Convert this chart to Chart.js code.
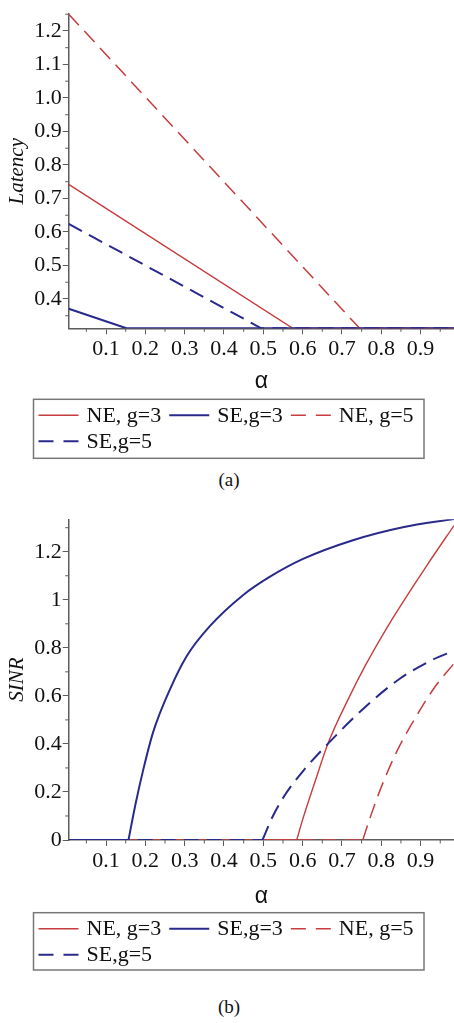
<!DOCTYPE html>
<html>
<head>
<meta charset="UTF-8">
<title>Latency and SINR vs alpha</title>
<script src="https://cdn.jsdelivr.net/npm/chart.js"></script>
<style>
    body { margin: 0; background: #fff; width: 454px; height: 1023px; overflow: hidden; position: relative; }
    .box { position: absolute; left: 0; width: 454px; }
    #boxA { top: 0; height: 465px; }
    #boxB { top: 500px; height: 478px; }
    .cap { position: absolute; left: 0; width: 458px; text-align: center; font: 19px "Liberation Serif", serif; color: #111; }
</style>
</head>
<body>
<div class="box" id="boxA"><canvas id="latencyChart"></canvas></div>
<div class="cap" style="top:469px">(a)</div>
<div class="box" id="boxB"><canvas id="sinrChart"></canvas></div>
<div class="cap" style="top:996px">(b)</div>

<script>
    // tick values and labels
    const alphaTicks = [0.1, 0.2, 0.3, 0.4, 0.5, 0.6, 0.7, 0.8, 0.9];
    const alphaTickLabels = ['0.1', '0.2', '0.3', '0.4', '0.5', '0.6', '0.7', '0.8', '0.9'];
    const alphaMinor = [0.05, 0.15, 0.25, 0.35, 0.45, 0.55, 0.65, 0.75, 0.85, 0.95];
    const latencyTicks = [0.4, 0.5, 0.6, 0.7, 0.8, 0.9, 1.0, 1.1, 1.2];
    const latencyTickLabels = ['0.4', '0.5', '0.6', '0.7', '0.8', '0.9', '1.0', '1.1', '1.2'];
    const latencyMinor = [0.35, 0.45, 0.55, 0.65, 0.75, 0.85, 0.95, 1.05, 1.15, 1.25];
    const sinrTicks = [0, 0.2, 0.4, 0.6, 0.8, 1.0, 1.2];
    const sinrTickLabels = ['0', '0.2', '0.4', '0.6', '0.8', '1', '1.2'];
    const sinrMinor = [0.1, 0.3, 0.5, 0.7, 0.9, 1.1, 1.3];

    const seriesNames = ['NE, g=3', 'SE,g=3', 'NE, g=5', 'SE,g=5'];

    // (a) latency
    const latAlphaNE3 = [0.005, 0.575, 1.0];
    const latNE3 = [0.742, 0.3125, 0.3125];
    const latAlphaSE3 = [0.005, 0.152, 1.0];
    const latSE3 = [0.371, 0.3125, 0.3125];
    const latAlphaNE5 = [0.005, 0.745, 1.0];
    const latNE5 = [1.25, 0.3125, 0.3125];
    const latAlphaSE5 = [0.005, 0.495, 1.0];
    const latSE5 = [0.624, 0.3125, 0.3125];

    // (b) SINR
    const sinrAlphaNE3 = [0.005, 0.585, 0.6, 0.635, 0.664, 0.72, 0.76, 0.82, 0.86, 0.92, 0.985];
    const sinrNE3 = [0, 0, 0.085, 0.26, 0.40, 0.60, 0.728, 0.899, 1.003, 1.153, 1.309];
    const sinrAlphaSE3 = [0.005, 0.157, 0.175, 0.195, 0.22, 0.262, 0.305, 0.364, 0.449, 0.516, 0.601, 0.728, 0.855, 0.985];
    const sinrSE3 = [0, 0, 0.15, 0.295, 0.45, 0.625, 0.765, 0.89, 1.02, 1.095, 1.17, 1.248, 1.302, 1.336];
    const sinrAlphaNE5 = [0.005, 0.753, 0.77, 0.8, 0.84, 0.9, 0.94, 0.985];
    const sinrNE5 = [0, 0, 0.085, 0.22, 0.37, 0.545, 0.645, 0.735];
    const sinrAlphaSE5 = [0.005, 0.498, 0.52, 0.55, 0.6, 0.664, 0.76, 0.846, 0.93, 0.985];
    const sinrSE5 = [0, 0, 0.085, 0.175, 0.285, 0.40, 0.555, 0.67, 0.75, 0.788];

    const red = '#c73c3e';
    const blue = '#2a2a8c';
    const axisColor = '#5c5c5c';
    const serif = '"Liberation Serif", "Times New Roman", serif';

    const styles = [
        { color: red, width: 1.4, dash: [], order: 2 },
        { color: blue, width: 2, dash: [], order: 0 },
        { color: red, width: 1.5, dash: [15, 8], order: 3 },
        { color: blue, width: 2, dash: [15, 8], order: 1 }
    ];

    function pts(xs, ys) {
        return xs.map((x, i) => ({ x: x, y: ys[i] }));
    }

    // straight line series
    function straightSets(series) {
        return series.map((s, i) => ({
            label: seriesNames[i],
            inLegend: true,
            data: pts(s[0], s[1]),
            borderColor: styles[i].color,
            borderWidth: styles[i].width,
            borderDash: styles[i].dash,
            order: styles[i].order,
            tension: 0
        }));
    }

    // flat part at zero + smooth rising part, split at the break point
    function curveSets(series) {
        const out = [];
        series.forEach((s, i) => {
            const all = pts(s[0], s[1]);
            let k = 0;
            while (k + 1 < all.length && all[k + 1].y === 0) k++;
            const base = {
                borderColor: styles[i].color,
                borderWidth: styles[i].width,
                borderDash: styles[i].dash,
                order: styles[i].order
            };
            out.push(Object.assign({ label: seriesNames[i], inLegend: true, data: all.slice(k), cubicInterpolationMode: 'monotone' }, base));
            out.push(Object.assign({ label: seriesNames[i], inLegend: false, data: all.slice(0, k + 1), tension: 0 }, base));
        });
        return out;
    }

    const minorTicks = {
        id: 'minorTicks',
        afterDraw(chart, args, opts) {
            const ctx = chart.ctx, xs = chart.scales.x, ys = chart.scales.y;
            ctx.save();
            ctx.strokeStyle = axisColor;
            ctx.lineWidth = 1;
            ctx.beginPath();
            opts.x.forEach(v => {
                const px = xs.getPixelForValue(v);
                ctx.moveTo(px, ys.bottom);
                ctx.lineTo(px, ys.bottom + 3.5);
            });
            opts.y.forEach(v => {
                const py = ys.getPixelForValue(v);
                ctx.moveTo(xs.left, py);
                ctx.lineTo(xs.left - 3.5, py);
            });
            ctx.stroke();
            ctx.restore();
        }
    };

    const boxLegend = {
        id: 'boxLegend',
        afterDraw(chart, args, opts) {
            const ctx = chart.ctx;
            const top = chart.chartArea.bottom + opts.offset;
            const left = 33.5, right = 424;
            ctx.save();
            ctx.strokeStyle = '#777';
            ctx.lineWidth = 1.5;
            ctx.strokeRect(left, top, right - left, opts.height);
            ctx.font = '22px ' + serif;
            ctx.textBaseline = 'middle';
            let x = left + 5, y = top + 16;
            chart.data.datasets.filter(d => d.inLegend).forEach(ds => {
                const w = 48 + ctx.measureText(ds.label).width;
                if (x + w > right - 3) { x = left + 5; y += 26; }
                ctx.strokeStyle = ds.borderColor;
                ctx.lineWidth = ds.borderWidth;
                ctx.setLineDash(ds.borderDash.length ? [15, 10] : []);
                ctx.beginPath();
                ctx.moveTo(x, y);
                ctx.lineTo(x + 40, y);
                ctx.stroke();
                ctx.setLineDash([]);
                ctx.fillStyle = '#111';
                ctx.fillText(ds.label, x + 48, y + 1);
                x += w + 8;
            });
            ctx.restore();
        }
    };

    function makeChart(id, datasets, cfg) {
        return new Chart(document.getElementById(id), {
            type: 'line',
            data: { datasets: datasets },
            plugins: [minorTicks, boxLegend],
            options: {
                responsive: true,
                maintainAspectRatio: false,
                animation: false,
                layout: { padding: { top: cfg.padTop, left: 0, right: 0, bottom: cfg.padBottom } },
                elements: { point: { radius: 0 } },
                scales: {
                    x: {
                        type: 'linear',
                        min: 0.005,
                        max: 0.985,
                        afterBuildTicks: s => { s.ticks = alphaTicks.map(v => ({ value: v })); },
                        afterFit: s => { s.height = cfg.xHeight; },
                        ticks: {
                            autoSkip: false,
                            maxRotation: 0,
                            padding: 2,
                            color: '#111',
                            font: { family: serif, size: 22 },
                            callback: (v, i) => alphaTickLabels[i]
                        },
                        grid: { drawOnChartArea: false, tickLength: 6, color: axisColor, tickColor: axisColor },
                        border: { color: axisColor, width: 1.5 },
                        title: {
                            display: true,
                            text: 'α',
                            color: '#111',
                            padding: { top: 0, bottom: 0 },
                            font: { family: '"Liberation Sans", Arial, sans-serif', size: 23, lineHeight: 1.2 }
                        }
                    },
                    y: {
                        type: 'linear',
                        min: cfg.yMin,
                        max: cfg.yMax,
                        afterBuildTicks: s => { s.ticks = cfg.yTicks.map(v => ({ value: v })); },
                        afterFit: s => { s.width = 68.7; },
                        ticks: {
                            autoSkip: false,
                            padding: 1,
                            color: '#111',
                            font: { family: serif, size: 22 },
                            callback: (v, i) => cfg.yLabels[i]
                        },
                        grid: { drawOnChartArea: false, tickLength: 6, color: axisColor, tickColor: axisColor },
                        border: { color: axisColor, width: 1.5 },
                        title: {
                            display: true,
                            text: cfg.yTitle,
                            color: '#111',
                            padding: { top: 5, bottom: 0 },
                            font: { family: serif, size: 21, style: 'italic', lineHeight: 1.2 }
                        }
                    }
                },
                plugins: {
                    legend: { display: false },
                    tooltip: { enabled: false },
                    minorTicks: { x: alphaMinor, y: cfg.yMinor },
                    boxLegend: { offset: cfg.legendOffset, height: cfg.legendHeight }
                }
            }
        });
    }

    makeChart('latencyChart', straightSets([
        [latAlphaNE3, latNE3], [latAlphaSE3, latSE3], [latAlphaNE5, latNE5], [latAlphaSE5, latSE5]
    ]), {
        padTop: 5, padBottom: 69.2, xHeight: 67.5,
        yMin: 0.3125, yMax: 1.25, yTicks: latencyTicks, yLabels: latencyTickLabels, yMinor: latencyMinor,
        yTitle: 'Latency', legendOffset: 71, legendHeight: 59
    });

    makeChart('sinrChart', curveSets([
        [sinrAlphaNE3, sinrNE3], [sinrAlphaSE3, sinrSE3], [sinrAlphaNE5, sinrNE5], [sinrAlphaSE5, sinrSE5]
    ]), {
        padTop: 19.3, padBottom: 67.2, xHeight: 70.8,
        yMin: 0, yMax: 1.335, yTicks: sinrTicks, yLabels: sinrTickLabels, yMinor: sinrMinor,
        yTitle: 'SINR', legendOffset: 72.7, legendHeight: 57.3
    });
</script>
</body>
</html>
